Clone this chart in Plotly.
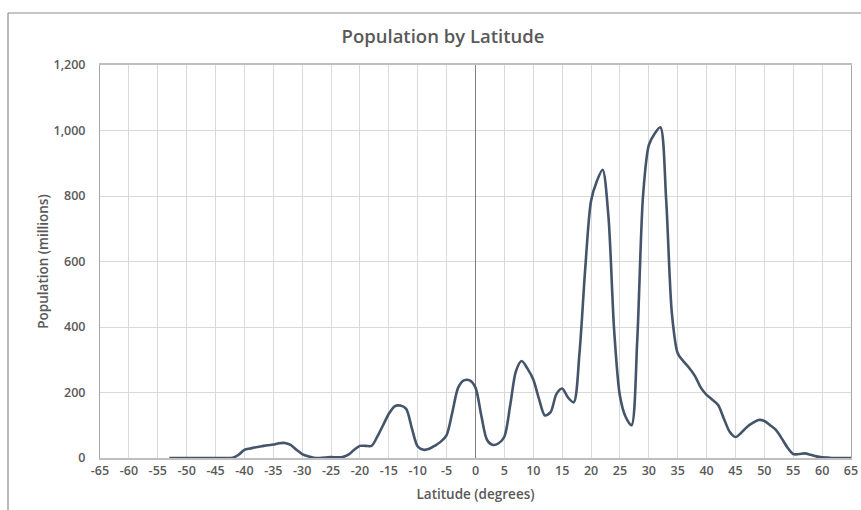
import plotly.graph_objects as go

latitudes = list(range(-53, 66))
population = [
    0, 0, 0, 0, 0, 0, 0, 0, 0, 0, 0,          # -53..-43
    1, 10, 25, 29, 33, 36, 39, 41, 45, 46,     # -42..-33
    40, 25, 12, 5, 1, 0, 1, 3, 2, 3,           # -32..-23
    10, 25, 37, 37, 37, 65, 100, 135, 158, 160,  # -22..-13
    150, 90, 35, 25, 28, 38, 50, 70, 140, 215,   # -12..-3
    237, 237, 215, 130, 55, 40, 45, 65, 160, 265,  # -2..7
    296, 273, 240, 180, 130, 140, 195, 212, 185, 170,  # 8..17
    320, 580, 785, 845, 880, 740, 390, 190, 125, 100,  # 18..27
    360, 800, 955, 990, 1010, 790, 440, 320, 295, 275,  # 28..37
    250, 215, 193, 178, 162, 120, 80, 64, 77, 95,  # 38..47
    107, 116, 113, 100, 86, 60, 32, 12, 12, 14,  # 48..57
    10, 5, 2, 1, 0, 0, 0, 0,  # 58..65
]

x_ticks = list(range(-65, 66, 5))
y_ticks = list(range(0, 1201, 200))

title_text = "Population by Latitude"
x_title = "Latitude (degrees)"
y_title = "Population (millions)"

FONT = "Open Sans"
TXT = "#595959"

W, H = 861, 510
L, T, R, B = 100, 65, 10, 52
PW, PH = W - L - R, H - T - B

fig = go.Figure()
fig.add_trace(go.Scatter(
    x=latitudes, y=population, mode="lines",
    line=dict(color="#44546a", width=2.6, shape="spline", smoothing=0.8),
    showlegend=False, hoverinfo="x+y",
))

fig.update_layout(
    width=W, height=H,
    margin=dict(l=L, r=R, t=T, b=B),
    paper_bgcolor="white", plot_bgcolor="white",
    font=dict(family=FONT, color=TXT, size=12),
    title=dict(text=title_text, x=443 / W, xanchor="center",
               y=1 - 37 / H, yanchor="middle",
               font=dict(family=FONT, size=18.5, color=TXT, weight=600)),
    xaxis=dict(
        range=[-65, 65], tickmode="array", tickvals=x_ticks,
        ticktext=[str(v) for v in x_ticks],
        showgrid=True, gridcolor="#d9d9d9", gridwidth=1,
        zeroline=True, zerolinecolor="#808080", zerolinewidth=1,
        showline=True, linecolor="#bfbfbf", linewidth=1.5, mirror=True,
        ticks="", tickfont=dict(size=12.5, color=TXT, weight=600),
        title=dict(text=x_title, standoff=12,
                   font=dict(size=13.5, color=TXT, weight=600)),
        automargin=False, fixedrange=True,
    ),
    yaxis=dict(
        range=[0, 1200], tickmode="array", tickvals=y_ticks,
        ticktext=["{:,}".format(v) for v in y_ticks],
        showgrid=True, gridcolor="#d9d9d9", gridwidth=1,
        zeroline=False,
        showline=True, linecolor="#a6a6a6", linewidth=1, mirror=True,
        ticks="", ticklabelstandoff=11, tickfont=dict(size=12.5, color=TXT, weight=600),
        title=dict(text=y_title, standoff=1,
                   font=dict(size=13.5, color=TXT, weight=600)),
        automargin=False, fixedrange=True,
    ),
    shapes=[
        dict(type="line", xref="paper", yref="paper",
             x0=(8 - L) / PW, x1=(W - L) / PW,
             y0=1 + (T - 13) / PH, y1=1 + (T - 13) / PH,
             line=dict(color="#8c8c8c", width=1.2)),
        dict(type="line", xref="paper", yref="paper",
             x0=(8 - L) / PW, x1=(8 - L) / PW,
             y0=1 + (T - 13) / PH, y1=-B / PH,
             line=dict(color="#8c8c8c", width=1.2)),
    ],
)

fig.write_html("out.html", config={"displayModeBar": False},
               post_script="document.body.style.margin='0';document.body.style.overflow='hidden';")
